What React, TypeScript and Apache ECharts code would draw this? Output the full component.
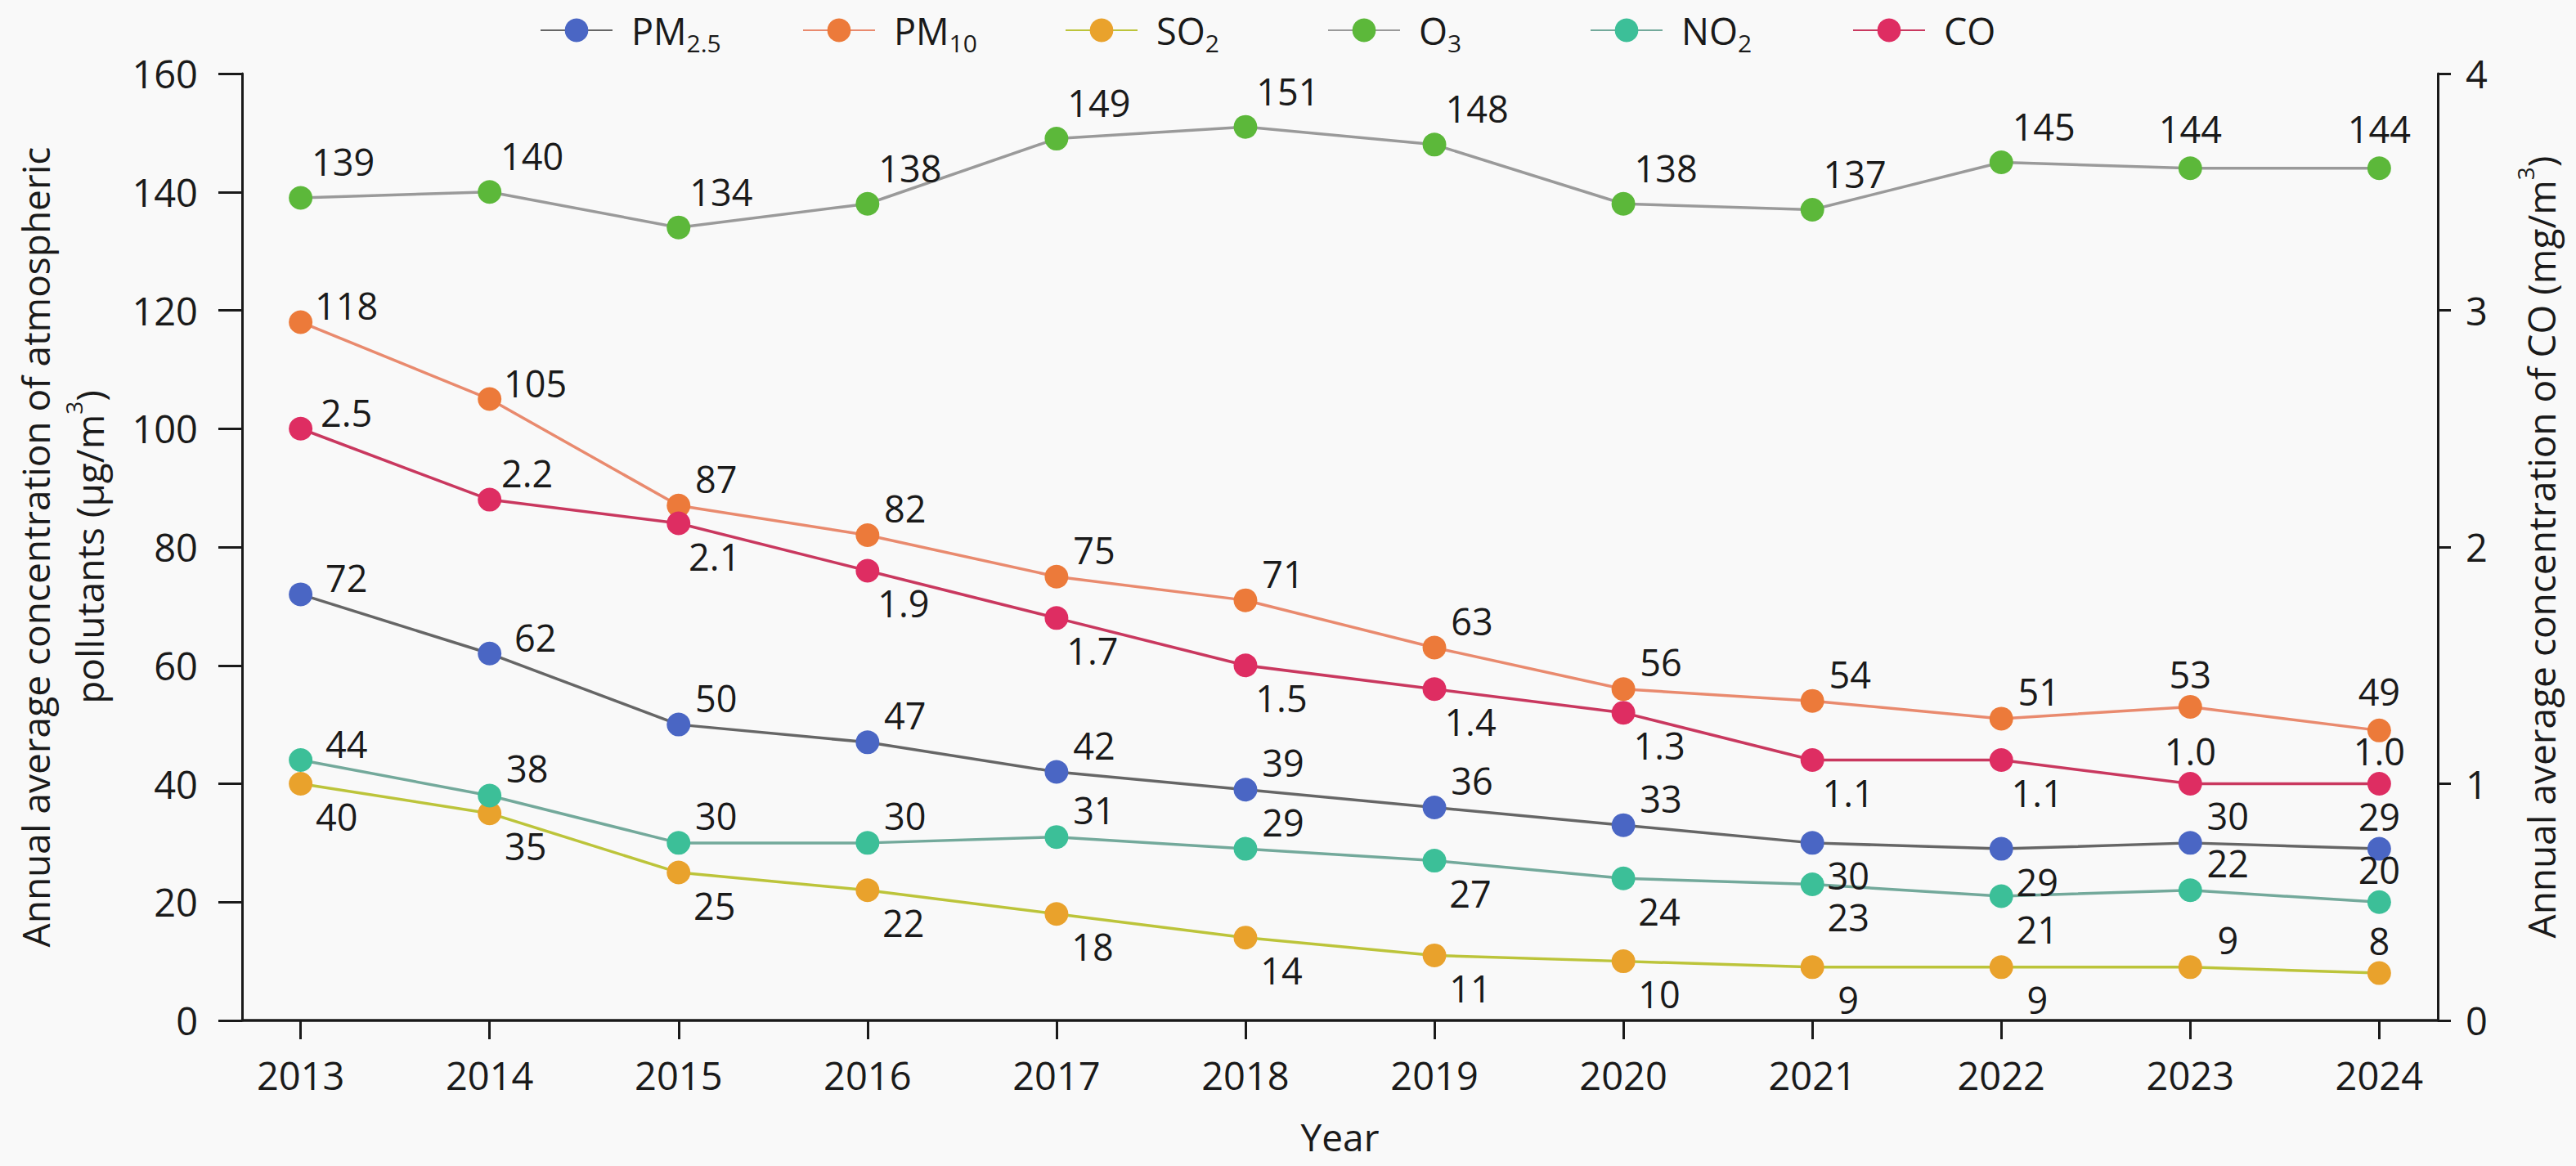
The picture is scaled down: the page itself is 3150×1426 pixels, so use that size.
import React, { useEffect, useRef } from "react";
import * as echarts from "echarts";

// ---- data ----
const years = [2013, 2014, 2015, 2016, 2017, 2018, 2019, 2020, 2021, 2022, 2023, 2024];
const pm25 = [72, 62, 50, 47, 42, 39, 36, 33, 30, 29, 30, 29];
const pm10 = [118, 105, 87, 82, 75, 71, 63, 56, 54, 51, 53, 49];
const so2 = [40, 35, 25, 22, 18, 14, 11, 10, 9, 9, 9, 8];
const o3 = [139, 140, 134, 138, 149, 151, 148, 138, 137, 145, 144, 144];
const no2 = [44, 38, 30, 30, 31, 29, 27, 24, 23, 21, 22, 20];
const co = [2.5, 2.2, 2.1, 1.9, 1.7, 1.5, 1.4, 1.3, 1.1, 1.1, 1.0, 1.0];

const seriesNames = ["PM2.5", "PM10", "SO2", "O3", "NO2", "CO"];
const legendLabels: Record<string, string> = {
  "PM2.5": "PM{sub|2.5}",
  PM10: "PM{sub|10}",
  SO2: "SO{sub|2}",
  O3: "O{sub|3}",
  NO2: "NO{sub|2}",
  CO: "CO",
};

// label placement codes per point
const pm25Place = ["r", "r", "ur", "ur", "ur", "ur", "ur", "ur", "dr", "dr", "ur", "u"];
const pm10Place = ["r", "r", "ur", "ur", "ur", "ur", "ur", "ur", "ur", "ur", "u", "u2"];
const so2Place = ["dr", "dr", "dr", "dr", "dr", "dr", "dr", "dr", "dr", "dr", "ur", "u"];
const o3Place = ["ur2", "ur2", "ur2", "ur2", "ur2", "ur2", "ur2", "ur2", "ur2", "ur2", "u2", "u2"];
const no2Place = ["r", "ur", "ur", "ur", "ur", "ur", "dr", "dr", "dr", "dr", "ur", "u"];
const coPlace = ["r", "ur", "dr", "dr", "dr", "dr", "dr", "dr", "dr", "dr", "u", "u"];

const OFFSETS: Record<string, number[]> = {
  r: [56, -20],
  ur: [46, -33],
  ur2: [52, -44],
  dr: [44, 40],
  u: [0, -40],
  u2: [0, -48],
};

const TEXT = "#1a1a1a";
const FONT = "'Open Sans', 'Noto Sans', sans-serif";

export default function App() {
  const ref = useRef<HTMLDivElement>(null);

  useEffect(() => {
    if (!ref.current) return;
    const chart = echarts.init(ref.current, undefined, { renderer: "svg" });

    const defs = [
      { name: "PM2.5", values: pm25, place: pm25Place, line: "#666666", marker: "#4a66c4", axis: 0, dec: 0 },
      { name: "PM10", values: pm10, place: pm10Place, line: "#e98a6e", marker: "#ec7a3a", axis: 0, dec: 0 },
      { name: "SO2", values: so2, place: so2Place, line: "#bcc43a", marker: "#e9a22c", axis: 0, dec: 0 },
      { name: "O3", values: o3, place: o3Place, line: "#9a9a9a", marker: "#5cb83a", axis: 0, dec: 0 },
      { name: "NO2", values: no2, place: no2Place, line: "#73a99b", marker: "#3cbf98", axis: 0, dec: 0 },
      { name: "CO", values: co, place: coPlace, line: "#c9385f", marker: "#de2d62", axis: 1, dec: 1 },
    ];

    const series = defs.map((d) => ({
      name: d.name,
      type: "line",
      yAxisIndex: d.axis,
      symbol: "circle",
      symbolSize: 29,
      lineStyle: { color: d.line, width: 3.5 },
      itemStyle: { color: d.marker },
      label: {
        show: true,
        position: "inside",
        fontSize: 45,
        fontFamily: FONT,
        color: TEXT,
        formatter: (p: any) => Number(p.value[1]).toFixed(d.dec),
      },
      emphasis: { disabled: true },
      data: years.map((y, i) => ({
        value: [y, d.values[i]],
        label: { offset: OFFSETS[d.place[i]] },
      })),
    }));

    const option: any = {
      animation: false,
      backgroundColor: "#f9f9f9",
      textStyle: { fontFamily: FONT, color: TEXT },
      legend: {
        data: seriesNames,
        left: 655,
        top: 2,
        itemWidth: 88,
        itemHeight: 36,
        itemGap: 69,
        formatter: (n: string) => legendLabels[n],
        textStyle: {
          fontFamily: FONT,
          fontSize: 45,
          color: TEXT,
          width: 140,
          lineHeight: 60,
          padding: [0, 0, 0, 18],
          rich: {
            sub: { fontFamily: FONT, fontSize: 30, lineHeight: 30, verticalAlign: "bottom", color: TEXT },
          },
        },
      },
      grid: {
        left: 296,
        right: 169,
        top: 90,
        bottom: 178,
        containLabel: false,
        outerBoundsMode: "none",
      },
      xAxis: {
        type: "value",
        min: 2012.69,
        max: 2024.31,
        name: "Year",
        nameLocation: "middle",
        nameGap: 114,
        nameTextStyle: { fontFamily: FONT, fontSize: 46, color: TEXT, lineHeight: 56 },
        axisLine: { show: true, lineStyle: { color: TEXT, width: 3.5 } },
        axisTick: { show: true, length: 23, lineStyle: { color: TEXT, width: 3 }, customValues: years },
        axisLabel: {
          fontFamily: FONT,
          fontSize: 47,
          color: TEXT,
          margin: 43,
          customValues: years,
          formatter: (v: number) => String(v),
        },
        splitLine: { show: false },
      },
      yAxis: [
        {
          type: "value",
          min: 0,
          max: 160,
          interval: 20,
          position: "left",
          name: "Annual average concentration of atmospheric\npollutants (μg/m{sup|3})",
          nameLocation: "middle",
          nameGap: 154,
          nameTextStyle: {
            fontFamily: FONT,
            fontSize: 46,
            color: TEXT,
            lineHeight: 66,
            rich: { sup: { fontFamily: FONT, fontSize: 28, lineHeight: 44, verticalAlign: "top", color: TEXT } },
          },
          axisLine: { show: true, lineStyle: { color: TEXT, width: 3 } },
          axisTick: { show: true, length: 29, lineStyle: { color: TEXT, width: 3 } },
          axisLabel: { fontFamily: FONT, fontSize: 47, color: TEXT, margin: 54 },
          splitLine: { show: false },
        },
        {
          type: "value",
          min: 0,
          max: 4,
          interval: 1,
          position: "right",
          name: "Annual average concentration of CO (mg/m{sup|3})",
          nameLocation: "middle",
          nameGap: 93,
          nameTextStyle: {
            fontFamily: FONT,
            fontSize: 46,
            color: TEXT,
            lineHeight: 66,
            rich: { sup: { fontFamily: FONT, fontSize: 28, lineHeight: 44, verticalAlign: "top", color: TEXT } },
          },
          axisLine: { show: true, lineStyle: { color: TEXT, width: 3 } },
          axisTick: { show: true, length: 16, lineStyle: { color: TEXT, width: 3 } },
          axisLabel: { fontFamily: FONT, fontSize: 47, color: TEXT, margin: 34 },
          splitLine: { show: false },
        },
      ],
      series,
    };

    chart.setOption(option);
    return () => chart.dispose();
  }, []);

  return (
    <div
      ref={ref}
      style={{ position: "fixed", left: 0, top: 0, width: 3150, height: 1426 }}
    />
  );
}
